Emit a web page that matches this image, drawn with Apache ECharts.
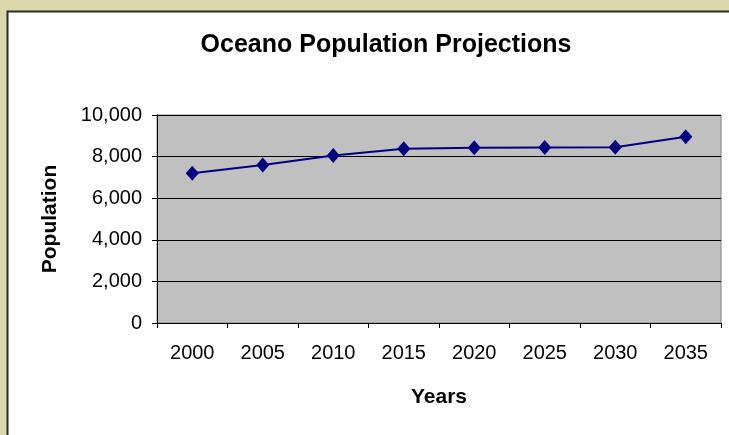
<!DOCTYPE html>
<html>
<head>
<meta charset="utf-8">
<script src="https://cdn.jsdelivr.net/npm/echarts@6/dist/echarts.min.js"></script>
<style>
  html, body { margin: 0; padding: 0; }
  #chart { width: 729px; height: 435px; }
</style>
</head>
<body>
<div id="chart"></div>
<script>
'use strict';
const years = ['2000', '2005', '2010', '2015', '2020', '2025', '2030', '2035'];
const population = [7200, 7600, 8050, 8380, 8430, 8440, 8450, 8950];

const myChart = echarts.init(document.getElementById('chart'));
const font = 'Liberation Sans, Arial, sans-serif';

const option = {
    animation: false,
    backgroundColor: '#DBD8AC',
    graphic: [{
        type: 'rect',
        z: -10,
        shape: { x: 7.5, y: 11.5, width: 740, height: 440 },
        style: { fill: '#ffffff', stroke: '#2b2b2b', lineWidth: 2 }
    }],
    title: {
        text: 'Oceano Population Projections',
        left: 381,
        top: 28,
        textAlign: 'center',
        textStyle: { fontFamily: font, fontSize: 25, fontWeight: 'bold', color: '#000' }
    },
    grid: {
        left: 157,
        top: 115,
        width: 564,
        height: 208,
        show: true,
        backgroundColor: '#C0C0C0',
        borderColor: '#808080',
        borderWidth: 1
    },
    xAxis: {
        type: 'category',
        data: years,
        boundaryGap: true,
        name: 'Years',
        nameLocation: 'middle',
        nameGap: 64,
        nameTextStyle: { fontFamily: font, fontSize: 21, fontWeight: 'bold', color: '#000' },
        axisLine: { lineStyle: { color: '#000', width: 1 } },
        axisTick: { show: true, length: 5, lineStyle: { color: '#000' } },
        axisLabel: { fontFamily: font, fontSize: 20, color: '#000', margin: 20 },
        splitLine: { show: false }
    },
    yAxis: {
        type: 'value',
        min: 0,
        max: 10000,
        interval: 2000,
        name: 'Population',
        nameLocation: 'middle',
        nameGap: 96,
        nameTextStyle: { fontFamily: font, fontSize: 21, fontWeight: 'bold', color: '#000' },
        axisLine: { show: true, lineStyle: { color: '#000', width: 1 } },
        axisTick: { show: true, length: 5, lineStyle: { color: '#000' } },
        axisLabel: {
            fontFamily: font, fontSize: 20, color: '#000', margin: 15,
            formatter: function (v) { return v.toLocaleString('en-US'); }
        },
        splitLine: { show: true, lineStyle: { color: '#000', width: 1 } }
    },
    series: [{
        type: 'line',
        data: population,
        symbol: 'diamond',
        symbolSize: [13, 15],
        lineStyle: { color: '#000080', width: 2 },
        itemStyle: { color: '#000080' }
    }]
};

myChart.setOption(option);
</script>
</body>
</html>
